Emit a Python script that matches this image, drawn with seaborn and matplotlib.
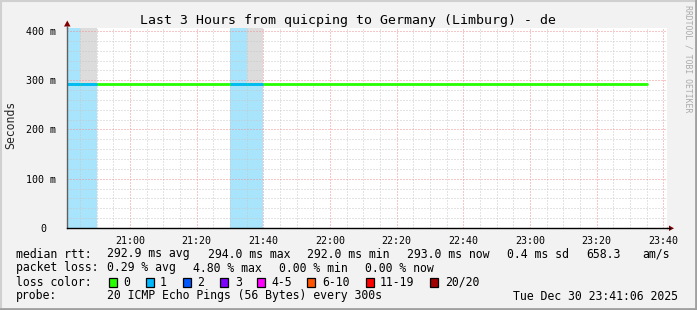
import numpy as np
import pandas as pd
import matplotlib
matplotlib.use("Agg")
import matplotlib.pyplot as plt
import matplotlib.dates as mdates
from matplotlib.patches import Polygon, Rectangle
from matplotlib.lines import Line2D
from matplotlib.transforms import ScaledTranslation
import seaborn as sns

# ---------------- data ----------------
title = "Last 3 Hours from quicping to Germany (Limburg) - de"
step_start = "2025-12-30 20:40"
window_start = "2025-12-30 20:41:06"
window_end = "2025-12-30 23:41:06"
# median rtt (ms) for each 5-minute step from 20:40 to 23:30 (35 steps)
median_ms = [293.0, 292.9, 292.8, 292.9, 293.0, 292.9, 292.8, 292.9, 293.0, 292.9,
             292.9, 293.0, 292.8, 292.9, 292.9, 293.0, 292.9, 292.8, 292.9, 293.0,
             292.9, 292.9, 292.8, 292.9, 293.0, 292.9, 292.9, 292.8, 292.9, 293.0,
             292.9, 292.9, 292.8, 292.9, 293.0]
# lost pings (of 20) per step
loss_count = [1, 1, 0, 0, 0, 0, 0, 0, 0, 0,
              1, 1, 0, 0, 0, 0, 0, 0, 0, 0,
              0, 0, 0, 0, 0, 0, 0, 0, 0, 0,
              0, 0, 0, 0, 0]
# upper edge of smoke (ms) per step
smoke_hi = [293.0, 430.0, 292.8, 292.9, 293.0, 292.9, 292.8, 292.9, 293.0, 292.9,
            292.9, 430.0, 292.8, 292.9, 292.9, 293.0, 292.9, 292.8, 292.9, 293.0,
            292.9, 292.9, 292.8, 292.9, 293.0, 292.9, 292.9, 292.8, 292.9, 293.0,
            292.9, 292.9, 292.8, 292.9, 293.0]
y_ticks = [0, 100, 200, 300, 400]
y_tick_labels = ["0", "100 m", "200 m", "300 m", "400 m"]
loss_labels = ["0", "1", "2", "3", "4-5", "6-10", "11-19", "20/20"]
loss_colors = ["#26ff00", "#00b8ff", "#0059ff", "#7e00ff", "#ff00ff", "#ff5500", "#ff0000", "#a00000"]
loss_bg_colors = ["#ffffff", "#a9e4fd", "#a0bcff", "#cfa6ff", "#ffa6ff", "#ffc0a0", "#ffa0a0", "#d8a0a0"]
legend_rows = [
    [(16, "median rtt:"), (107, "292.9 ms avg"), (208, "294.0 ms max"), (307, "292.0 ms min"),
     (407, "293.0 ms now"), (507, "0.4 ms sd"), (586, "658.3"), (642, "am/s")],
    [(16, "packet loss:"), (107, "0.29 % avg"), (193, "4.80 % max"), (279, "0.00 % min"), (365, "0.00 % now")],
    [(16, "loss color:")],
    [(16, "probe:"), (107, "20 ICMP Echo Pings (56 Bytes) every 300s"), (513, "Tue Dec 30 23:41:06 2025")],
]
loss_box_x = [109, 146, 183, 220, 257, 307, 366, 430]
loss_text_x = [123, 160, 197, 235, 271, 322, 380, 445]

# ---------------- style ----------------
sns.set_style("white")
plt.rcParams["font.family"] = ["DejaVu Sans Mono"]

W, H = 697, 310
fig = plt.figure(figsize=(W / 100, H / 100), dpi=100)
fig.patch.set_facecolor("#f2f2f2")

def fx(px):
    return px / W

def fy(py):
    return 1 - py / H

ax = fig.add_axes([fx(67), fy(228), fx(600), 200 / H])
ax.set_facecolor("white")

starts = pd.date_range(step_start, periods=len(median_ms), freq="5min")
t_num = mdates.date2num(starts)
w_num = 5 / 1440.0
med = np.array(median_ms)
loss = np.array(loss_count)
top = 406

def loss_index(n):
    if n <= 3:
        return n
    if n <= 5:
        return 4
    if n <= 10:
        return 5
    if n <= 19:
        return 6
    return 7

# loss background
for i in range(len(loss)):
    if loss[i] > 0:
        ax.bar(t_num[i], top, width=w_num, align="edge", color=loss_bg_colors[loss_index(loss[i])],
               linewidth=0, zorder=1)

# smoke
sh = np.array(smoke_hi)
mask = sh > med + 1
ax.bar(t_num[mask], sh[mask] - med[mask], bottom=med[mask], width=w_num, align="edge",
       color="#dcdcdc", linewidth=0, zorder=1.2)

# median line (step), green, then loss-colored segments
edges = np.append(t_num, t_num[-1] + w_num)
df = pd.DataFrame({"t": edges, "rtt": np.append(med, med[-1])})
sns.lineplot(data=df, x="t", y="rtt", ax=ax, color=loss_colors[0], linewidth=2,
             drawstyle="steps-post", zorder=4, estimator=None, sort=False)
for i in range(len(loss)):
    if loss[i] > 0:
        ax.hlines(med[i], edges[i], edges[i + 1], colors=loss_colors[loss_index(loss[i])],
                  linewidth=2, zorder=4.1)

# axes limits and ticks
ax.set_xlim(mdates.date2num(pd.Timestamp(window_start)), mdates.date2num(pd.Timestamp(window_end)))
ax.set_ylim(0, top)
ax.xaxis.set_major_locator(mdates.MinuteLocator(byminute=[0, 20, 40]))
ax.xaxis.set_minor_locator(mdates.MinuteLocator(byminute=range(0, 60, 5)))
ax.xaxis.set_major_formatter(mdates.DateFormatter("%H:%M"))
ax.set_yticks(y_ticks)
ax.set_yticklabels(y_tick_labels)
ax.set_yticks(np.arange(0, 401, 20), minor=True)

ax.set_axisbelow(False)
ax.grid(True, which="minor", color="#c8c8c8", linewidth=0.72, linestyle=(0, (1, 2)))
ax.grid(True, which="major", color="#f09090", linewidth=0.72, linestyle=(0, (1, 2)))
ax.xaxis.set_zorder(3)
ax.yaxis.set_zorder(3)

ax.tick_params(axis="both", which="major", labelsize=7.2, length=3, width=0.8, color="#000000",
               direction="out", labelcolor="#000000")
ax.tick_params(axis="y", which="minor", length=2, width=0.6, color="#999999", direction="out")
ax.tick_params(axis="x", which="minor", length=0)
ax.tick_params(axis="x", which="major", pad=3)
ax.tick_params(axis="y", which="major", pad=5)
ax.set_xlabel("")
ax.set_ylabel("")

for s in ["top", "right"]:
    ax.spines[s].set_visible(False)
ax.spines["left"].set_color("#606060")
ax.spines["left"].set_linewidth(1)
ax.spines["bottom"].set_color("#000000")
ax.spines["bottom"].set_linewidth(1)
ax.spines["left"].set_zorder(5)
ax.spines["bottom"].set_zorder(5)

# shift the "0" label like rrdtool does
for lab in ax.get_yticklabels():
    if lab.get_text() == "0":
        lab.set_transform(lab.get_transform() + ScaledTranslation(-10 / 100, 0, fig.dpi_scale_trans))

# arrows
fig.add_artist(Line2D([fx(667), fx(670)], [fy(228), fy(228)], color="black", lw=1))
fig.add_artist(Polygon([[fx(669), fy(225.5)], [fx(674), fy(228.3)], [fx(669), fy(231)]],
                       closed=True, color="#800000", lw=0))
fig.add_artist(Polygon([[fx(64), fy(26.5)], [fx(67.3), fy(20.5)], [fx(70.5), fy(26.5)]],
                       closed=True, color="#800000", lw=0))
fig.add_artist(Line2D([fx(67.3), fx(67.3)], [fy(28), fy(26)], color="#606060", lw=1))

# texts
fig.text(fx(348.5), fy(24), title, ha="center", va="baseline", fontsize=9.5, color="black")
fig.text(fx(11), fy(125), "Seconds", ha="center", va="center", rotation=90, fontsize=8.3)
fig.text(fx(688), fy(5), "RRDTOOL / TOBI OETIKER", ha="center", va="top", rotation=-90,
         fontsize=5.9, color="#aaaaaa")

baselines = [257.5, 271.5, 285.5, 299.5]
for row, yb in zip(legend_rows, baselines):
    for x, txt in row:
        fig.text(fx(x), fy(yb), txt, ha="left", va="baseline", fontsize=8.3, color="black")
for bx, tx, lab, col in zip(loss_box_x, loss_text_x, loss_labels, loss_colors):
    fig.add_artist(Rectangle((fx(bx), fy(286.5)), 8 / W, 9 / H, transform=fig.transFigure,
                             facecolor=col, edgecolor="black", linewidth=0.9))
    fig.text(fx(tx), fy(285.5), lab, ha="left", va="baseline", fontsize=8.3, color="black")

# frame shading
fig.add_artist(Line2D([0, 1], [fy(1), fy(1)], color="#d0d0d0", lw=1.5))
fig.add_artist(Line2D([fx(1), fx(1)], [0, 1], color="#d0d0d0", lw=1.5))
fig.add_artist(Line2D([0, 1], [fy(309), fy(309)], color="#a0a0a0", lw=2))
fig.add_artist(Line2D([fx(696), fx(696)], [0, 1], color="#a0a0a0", lw=2))

fig.savefig("out.png", dpi=100, facecolor=fig.get_facecolor())
